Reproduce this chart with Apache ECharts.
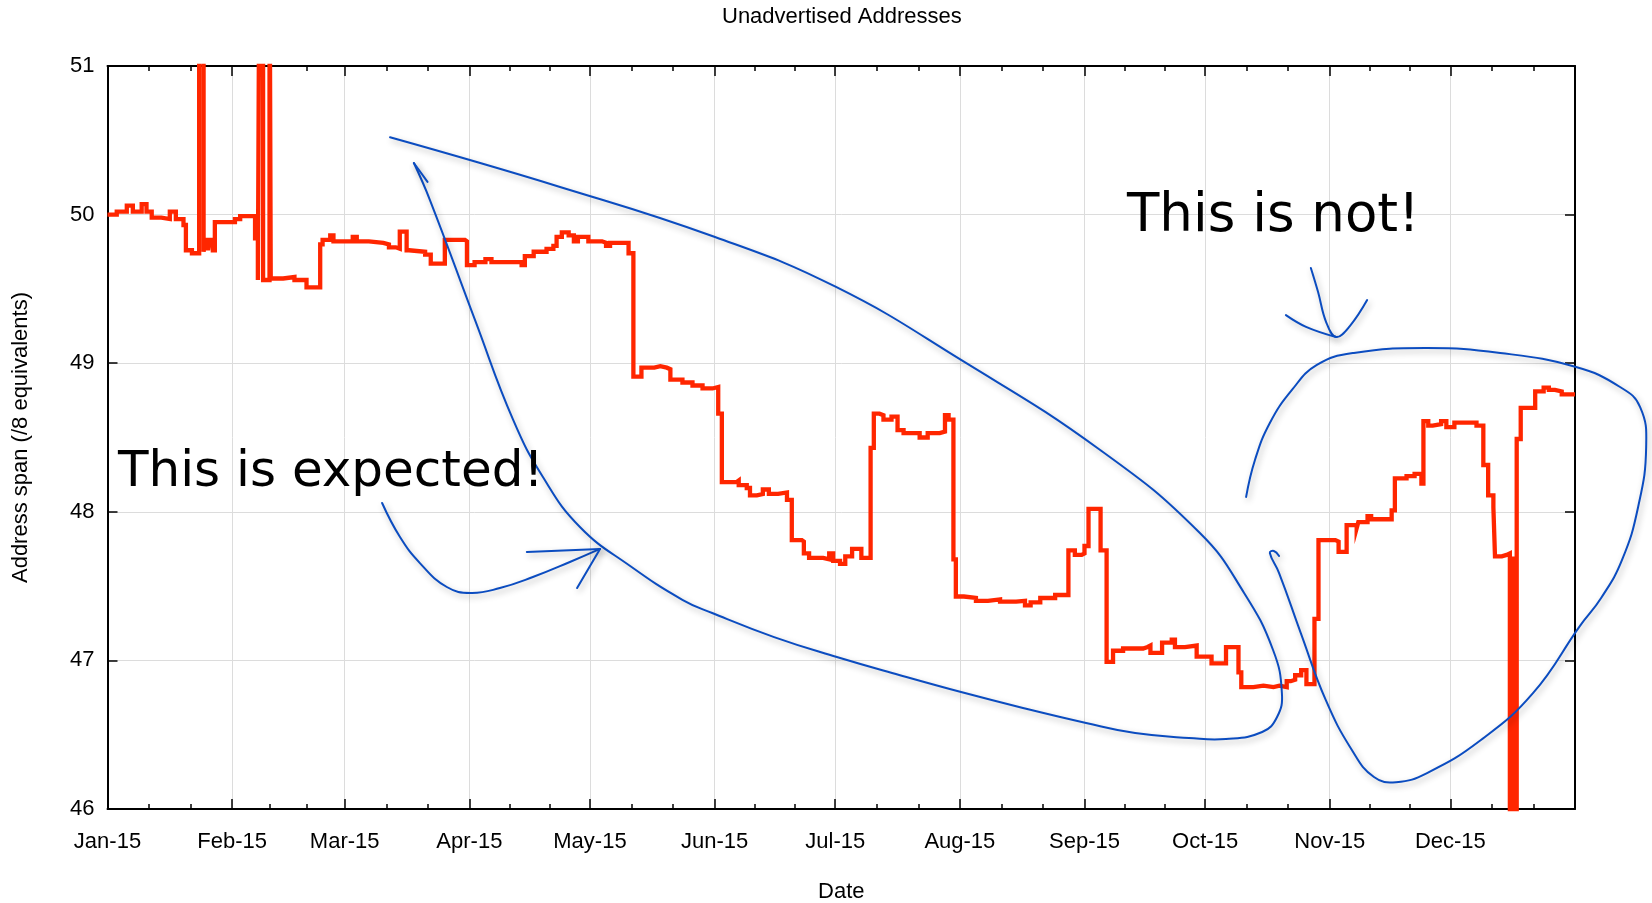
<!DOCTYPE html>
<html>
<head>
<meta charset="utf-8">
<script src="https://cdn.jsdelivr.net/npm/echarts@6/dist/echarts.min.js"></script>
<style>
html,body{margin:0;padding:0;background:#fff;}
#c{width:1652px;height:903px;}
</style>
</head>
<body>
<div id="c"></div>
<script>
// ---------- data ----------
const TITLE = 'Unadvertised Addresses';
const X_NAME = 'Date';
const Y_NAME = 'Address span (/8 equivalents)';
const MONTH_NAMES = ['Jan','Feb','Mar','Apr','May','Jun','Jul','Aug','Sep','Oct','Nov','Dec'];
const Y_MIN = 46, Y_MAX = 51, Y_STEP = 1;
const YEAR = 2015;
const DAYS_IN_YEAR = 365;

// [day of year (0 = 1 Jan 2015), address span] — value holds until next change
const spanSteps = [
  [0,50.00],[2.3,50.02],[4.8,50.06],[6.3,50.02],[8.5,50.07],[9.7,50.02],[11,49.98],[13.4,49.97],
  [15.5,50.02],[17,49.97],[18.9,49.93],[19.5,49.76],[21,49.74],
  [22.8,52],[23.9,49.75],[24.3,49.83],[25.0,49.76],[25.4,49.83],[26.2,49.76],[26.7,49.95],
  [31.7,49.97],[33,49.99],[36.7,49.84],[37.4,49.56],[37.8,52],[38.7,49.56],[40.3,52],[40.6,49.57],
  [43.7,49.58],[46.5,49.56],[49.5,49.51],[52.9,49.80],[53.5,49.83],[55.4,49.86],[56.2,49.82],
  [61,49.85],[62,49.82],[65,49.81],[68.6,49.80],[70,49.78],[71.7,49.77],[72.7,49.885],[74.4,49.76],
  [75,49.75],[79,49.73],[80.4,49.67],[83.9,49.83],[88.9,49.82],[89.4,49.66],[91.3,49.68],[94,49.70],
  [95.5,49.68],[103,49.66],[103.8,49.72],[106,49.75],[109.2,49.77],[110.9,49.79],[111.7,49.85],
  [113,49.88],[114.7,49.86],[116,49.82],[117,49.85],[119.6,49.82],[123,49.81],[124,49.79],[125,49.81],
  [129.6,49.74],
  [130.8,48.91],[132.8,48.97],[136,48.98],[137.5,48.97],[139.1,48.96],[140,48.89],[143,48.87],
  [145.5,48.85],[148,48.83],[150.5,48.84],[151.9,48.66],[152.8,48.20],[156.5,48.21],[157,48.18],
  [159,48.16],[159.8,48.11],[161.5,48.12],[163,48.15],[164.5,48.12],[166.8,48.13],[169,48.08],
  [170.2,47.81],[172.7,47.80],[173.2,47.72],[174.5,47.69],[178,47.68],[179.5,47.72],[180.5,47.67],
  [182.2,47.65],[183.5,47.70],[185.2,47.75],[187.5,47.69],
  [189.8,48.43],[190.6,48.66],[192,48.65],[193,48.62],[195,48.64],[196.5,48.55],[198,48.53],
  [202,48.50],[204,48.53],[207,48.54],[208.3,48.65],[209.2,48.62],
  [210.4,47.68],[211,47.43],[213,47.42],[216,47.40],[219,47.41],[222,47.395],[226,47.40],
  [228.2,47.37],[229.6,47.39],[232,47.42],[235.7,47.44],
  [239,47.74],[240.6,47.71],[242.3,47.72],[243,47.77],[244,48.02],[247,47.74],
  [248.5,46.99],[250.1,47.065],[252.6,47.08],[257.6,47.09],[258.7,47.10],[259.4,47.05],[262.3,47.12],
  [264.7,47.14],[265.5,47.09],[268,47.10],[270.9,47.025],[274.6,46.98],[278.2,47.09],[281.3,46.92],
  [282,46.82],[285,46.83],[287.5,46.82],[290,46.83],[291.5,46.82],[293.3,46.86],[294.3,46.87],
  [295.4,46.90],[296.9,46.935],[298.2,46.84],
  [300.2,47.28],[301.2,47.81],[305.4,47.80],[306.2,47.73],[308.2,47.91],[310.7,47.89],[311.1,47.93],
  [313.4,47.97],[314.3,47.95],[319.4,48.01],
  [320.2,48.225],[323.1,48.24],[325.1,48.255],[326.8,48.19],[327.3,48.61],[328.5,48.58],[329.6,48.59],
  [331.7,48.61],[333,48.57],[335,48.60],[340.5,48.58],
  [342.2,48.315],[343.4,48.11],[344.7,48.03],[345.1,47.70],[346.8,47.71],[348,47.72],
  [348.8,45],[349.6,47.70],[349.7,45],[350.5,48.49],[351.5,48.70],[355.1,48.81],[357.2,48.835],
  [358.5,48.82],[360,48.81],[361.7,48.79],[365,48.79]
];

// hand-drawn annotations, in [day, value] units
const loopExpected = [[70.27,50.52],[112.55,50.186],[151.1,49.849],[181.2,49.513],[212.3,49.022],
  [246.9,48.416],[271.7,47.857],[282.7,47.454],[289.9,47.07],[292.1,46.781],[290.9,46.619],
  [287.2,46.518],[278.2,46.471],[269.0,46.478],[255.6,46.511],[243.4,46.579],[227.7,46.68],
  [212.3,46.787],[196.9,46.902],[181.4,47.023],[165.8,47.157],[150.4,47.319],[143.1,47.406],
  [130.0,47.635],[117.5,47.898],[108.3,48.234],[100.9,48.618],[91.4,49.291],[80.2,50.098],[76.2,50.347]];
const loopExpectedBarb = [[76.2,50.347],[79.6,50.22]];
const arrowExpected = [[68.3,48.059],[72.75,47.83],[77.7,47.655],[84.4,47.494],[90.4,47.454],
  [97.6,47.487],[105.8,47.561],[115.0,47.662],[122.5,47.75]];
const arrowExpectedBarbA = [[104.3,47.729],[122.5,47.75]];
const arrowExpectedBarbB = [[116.8,47.487],[122.5,47.75]];
const arrowNot = [[299.3,49.641],[301.1,49.479],[303.1,49.277],[305.6,49.176],[309.0,49.25],[313.3,49.425]];
const arrowNotBarb = [[293.1,49.324],[298.1,49.245],[305.6,49.176]];
const loopNot = [[283.2,48.1],[285.4,48.349],[289.1,48.598],[294.6,48.82],[300.8,48.988],[310.0,49.069],
  [328.2,49.102],[346.4,49.069],[365.25,48.974],[376.2,48.84],[381.2,48.705],[382.7,48.436],
  [380.7,48.032],[376.7,47.676],[371.5,47.42],[366.2,47.231],[354.6,46.781],[341.6,46.464],
  [328.2,46.242],[320.5,46.18],[315.0,46.215],[309.5,46.397],[303.0,46.734],[296.8,47.184],
  [291.4,47.588],[289.1,47.723],[290.1,47.736],[291.4,47.703]];
const NOTE_EXPECTED = 'This is expected!';
const NOTE_NOT = 'This is not!';

// ---------- chart ----------
const DAY = 86400000;
const T0 = new Date(YEAR, 0, 1).getTime();
const toTime = d => T0 + d * DAY;
const toPts = arr => arr.map(p => [toTime(p[0]), p[1]]);

const FONT = "'Liberation Sans', Arial, Helvetica, sans-serif";
const HAND = "'DejaVu Sans', sans-serif";
const BLUE = '#0b4cc0';
const FS = 22;

const monthLabel = v => {
  const d = new Date(v);
  return MONTH_NAMES[d.getMonth()] + '-' + String(d.getFullYear()).slice(2);
};

const tickStyle = {color: '#000', width: 1.5};
const baseX = {
  type: 'time', min: toTime(0), max: toTime(DAYS_IN_YEAR),
  minInterval: 28 * DAY, maxInterval: 31 * DAY,
  axisLine: {show: true, onZero: false, lineStyle: {color: '#000', width: 2}},
  axisTick: {show: true, inside: true, length: 10, lineStyle: tickStyle},
  minorTick: {show: true, splitNumber: 3, length: 5, lineStyle: tickStyle}
};
const baseY = {
  type: 'value', min: Y_MIN, max: Y_MAX, interval: Y_STEP,
  axisLine: {show: true, onZero: false, lineStyle: {color: '#000', width: 2}},
  axisTick: {show: true, inside: true, length: 10, lineStyle: tickStyle}
};

const chart = echarts.init(document.getElementById('c'), null, {renderer: 'canvas'});
chart.setOption({
  animation: false,
  backgroundColor: '#fff',
  title: {text: TITLE, left: 717, top: 1,
    textStyle: {fontFamily: FONT, fontSize: FS, fontWeight: 'normal', color: '#000'}},
  grid: {left: 107.5, right: 77, top: 66, bottom: 94, containLabel: false, outerBoundsMode: 'none'},
  xAxis: [
    Object.assign({}, baseX, {
      position: 'bottom', name: X_NAME, nameLocation: 'middle', nameGap: 71.5,
      nameTextStyle: {fontFamily: FONT, fontSize: FS, color: '#000'},
      axisLabel: {formatter: monthLabel, fontFamily: FONT, fontSize: FS, color: '#000', margin: 22,
        showMaxLabel: false, showMinLabel: true, hideOverlap: false},
      splitLine: {show: true, lineStyle: {color: '#dcdcdc', width: 1}}
    }),
    Object.assign({}, baseX, {position: 'top', axisLabel: {show: false}, splitLine: {show: false}})
  ],
  yAxis: [
    Object.assign({}, baseY, {
      position: 'left', name: Y_NAME, nameLocation: 'middle', nameGap: 76, nameRotate: 90,
      nameTextStyle: {fontFamily: FONT, fontSize: FS, color: '#000'},
      axisLabel: {fontFamily: FONT, fontSize: FS, color: '#000', margin: 13},
      splitLine: {show: true, lineStyle: {color: '#dcdcdc', width: 1}}
    }),
    Object.assign({}, baseY, {position: 'right', axisLabel: {show: false}, splitLine: {show: false}})
  ],
  series: [
    {type: 'line', name: 'span', data: toPts(spanSteps), step: 'end', symbol: 'none',
      lineStyle: {color: '#ff2600', width: 4.3, join: 'miter'}, z: 3, silent: true}
  ]
});

// annotations: mapped through the chart's own axes (linear, extrapolated beyond the grid)
const pA = chart.convertToPixel({xAxisIndex: 0, yAxisIndex: 0}, [toTime(0), Y_MIN]);
const pB = chart.convertToPixel({xAxisIndex: 0, yAxisIndex: 0}, [toTime(DAYS_IN_YEAR), Y_MAX]);
const mapPt = p => [
  pA[0] + (p[0] / DAYS_IN_YEAR) * (pB[0] - pA[0]),
  pA[1] + ((p[1] - Y_MIN) / (Y_MAX - Y_MIN)) * (pB[1] - pA[1])
];
function curve(arr, smooth) {
  return {type: 'polyline', silent: true, z: 50,
    shape: {points: arr.map(mapPt), smooth: smooth},
    style: {stroke: BLUE, lineWidth: 2, fill: null, lineCap: 'round', lineJoin: 'round',
      shadowColor: 'rgba(0,0,0,0.3)', shadowBlur: 6, shadowOffsetX: 2, shadowOffsetY: 3}};
}
chart.setOption({
  graphic: [
    curve(loopExpected, 0.45),
    curve(loopExpectedBarb, 0),
    curve(arrowExpected, 0.45),
    curve(arrowExpectedBarbA, 0),
    curve(arrowExpectedBarbB, 0),
    curve(arrowNot, 0.4),
    curve(arrowNotBarb, 0.4),
    curve(loopNot, 0.45),
    {type: 'text', left: 118, top: 448, z: 60, silent: true,
      style: {text: NOTE_EXPECTED, fontSize: 50, fontFamily: HAND, fill: '#000'}},
    {type: 'text', left: 1127, top: 191, z: 60, silent: true,
      style: {text: NOTE_NOT, fontSize: 53, fontFamily: HAND, fill: '#000'}}
  ]
});
</script>
</body>
</html>
